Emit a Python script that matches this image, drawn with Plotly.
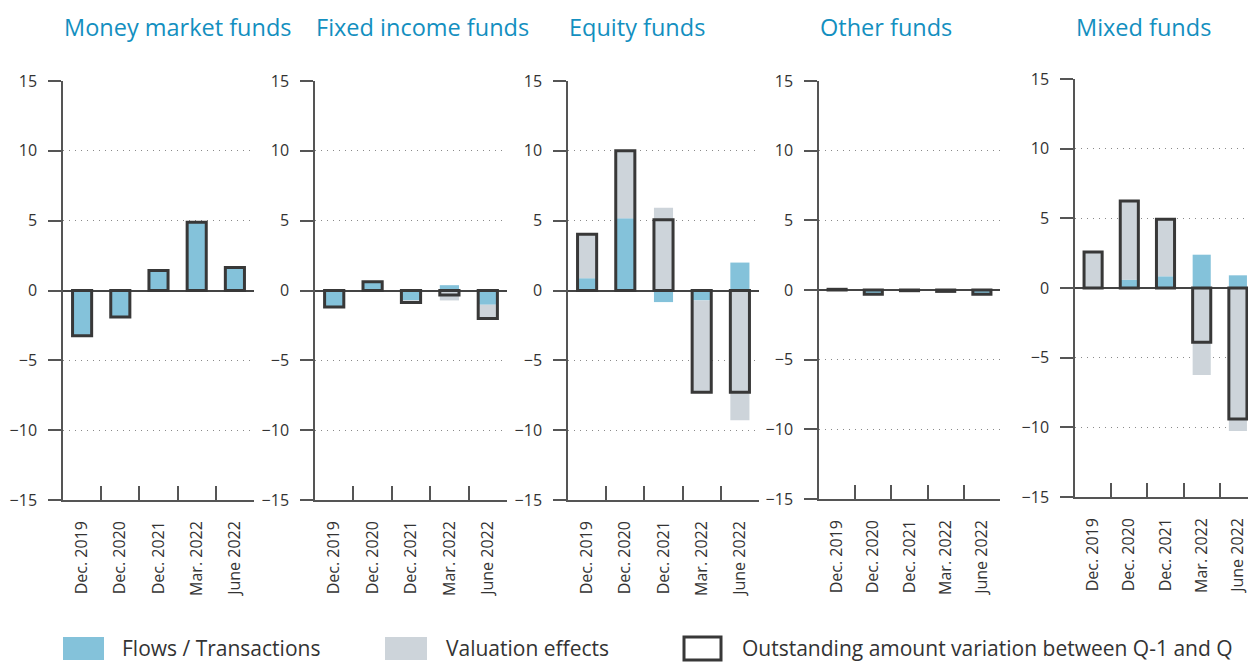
import plotly.graph_objects as go

W, H = 1256, 662
OFF = 8  # page body margin in the browser

categories = ["Dec. 2019", "Dec. 2020", "Dec. 2021", "Mar. 2022", "June 2022"]
titles = ["Money market funds", "Fixed income funds", "Equity funds", "Other funds", "Mixed funds"]

mmf_flows = [-3.24, -1.9, 1.43, 4.88, 1.64]
mmf_val = [0.0, 0.0, 0.0, 0.0, 0.0]
mmf_total = [-3.24, -1.9, 1.43, 4.88, 1.64]

fi_flows = [-1.19, 0.62, -0.7, 0.38, -1.02]
fi_val = [0.0, 0.0, -0.16, -0.71, -0.98]
fi_total = [-1.19, 0.62, -0.86, -0.33, -2.0]

eq_flows = [0.88, 5.17, -0.83, -0.71, 2.0]
eq_val = [3.14, 4.83, 5.93, -6.58, -9.29]
eq_total = [4.02, 10.0, 5.07, -7.29, -7.29]

oth_flows = [0.1, -0.3, -0.1, -0.05, -0.3]
oth_val = [-0.05, 0.0, 0.05, -0.05, 0.0]
oth_total = [0.05, -0.3, -0.05, -0.1, -0.3]

mix_flows = [0.0, 0.6, 0.84, 2.39, 0.91]
mix_val = [2.58, 5.64, 4.09, -6.24, -10.26]
mix_total = [2.58, 6.24, 4.93, -3.9, -9.4]

yticks = [-15, -10, -5, 0, 5, 10, 15]

panels = [
    (mmf_flows, mmf_val, mmf_total),
    (fi_flows, fi_val, fi_total),
    (eq_flows, eq_val, eq_total),
    (oth_flows, oth_val, oth_total),
    (mix_flows, mix_val, mix_total),
]

# pixel layout of each panel in the target picture: x0, x1, ytop(15), ybottom(-15)
boxes = [
    (63, 254, 81, 500),
    (315, 507, 81, 500),
    (568, 759, 81, 500),
    (819, 1000, 81, 499),
    (1075, 1256, 79, 497),
]


def px(x):
    return (x - OFF) / W


def py(y):
    return 1 - (y - OFF) / H


BLUE = "#84c2da"
GREY = "#cdd4da"
DARK = "#383838"
TXT = "#333333"
TITLE = "#138fc0"
FONT = "Open Sans"
BW = 0.5

fig = go.Figure()
layout = {}
annotations = []
shapes = []

for i, ((fl, va, tot), (x0, x1, yt, yb)) in enumerate(zip(panels, boxes)):
    n = "" if i == 0 else str(i + 1)
    xa, ya = "x" + n, "y" + n
    val_base = [f if f * v > 0 else 0 for f, v in zip(fl, va)]
    fig.add_trace(go.Bar(x=categories, y=fl, base=[0] * len(fl), width=BW,
                         marker=dict(color=BLUE, line=dict(width=0)),
                         xaxis=xa, yaxis=ya, showlegend=False))
    fig.add_trace(go.Bar(x=categories, y=va, base=val_base, width=BW,
                         marker=dict(color=GREY, line=dict(width=0)),
                         xaxis=xa, yaxis=ya, showlegend=False))
    fig.add_trace(go.Bar(x=categories, y=tot, base=[0] * len(tot), width=BW,
                         marker=dict(color="rgba(0,0,0,0)", line=dict(width=3, color=DARK)),
                         xaxis=xa, yaxis=ya, showlegend=False))
    # the last panel runs off the right edge of the picture
    d1 = px(x1)
    r1 = 4.5
    if d1 > 1:
        r1 = 4.5 - (d1 - 1) * W / ((x1 - x0) / 5)
        d1 = 1
    layout["xaxis" + n] = dict(
        domain=[px(x0), d1], anchor=ya, type="category",
        categoryorder="array", categoryarray=categories, automargin=False,
        range=[-0.5, r1], tickson="boundaries", ticks="inside", ticklen=14,
        tickwidth=1.5, tickcolor="#555", showline=True, linecolor="#555", linewidth=1.5,
        tickangle=-90, tickfont=dict(family=FONT, size=16, color=TXT),
        ticklabelstandoff=13, showgrid=False, zeroline=False, fixedrange=True,
    )
    layout["yaxis" + n] = dict(
        domain=[py(yb), py(yt)], anchor=xa, range=[-15, 15], automargin=False,
        tickvals=yticks, ticktext=[("\u2212" + str(-v)) if v < 0 else str(v) for v in yticks],
        ticks="outside", ticklen=13, tickwidth=1.5, tickcolor="#555",
        showline=True, linecolor="#555", linewidth=1.5, ticklabelstandoff=8,
        showgrid=True, gridcolor="#8a8a8a", griddash="1px,5px", gridwidth=1.2,
        zeroline=True, zerolinecolor="#444", zerolinewidth=1.5,
        tickfont=dict(family=FONT, size=16, color=TXT), fixedrange=True,
    )
    annotations.append(dict(text=titles[i], xref="paper", yref="paper",
                            x=px(x0 - 1), y=py(27), xanchor="left", yanchor="middle",
                            showarrow=False, font=dict(family=FONT, size=23.5, color=TITLE)))

# legend
leg = [
    (63, 104, BLUE, None, "Flows / Transactions", 120),
    (385, 427, GREY, None, "Valuation effects", 444),
    (684, 721, "white", DARK, "Outstanding amount variation between Q-1 and Q", 740),
]
for lx0, lx1, fc, lc, label, tx in leg:
    shapes.append(dict(type="rect", xref="paper", yref="paper",
                       x0=px(lx0), x1=px(lx1), y0=py(660), y1=py(637),
                       fillcolor=fc, line=dict(width=3 if lc else 0, color=lc or fc)))
    annotations.append(dict(text=label, xref="paper", yref="paper", x=px(tx), y=py(648),
                            xanchor="left", yanchor="middle", showarrow=False,
                            font=dict(family=FONT, size=21, color=TXT)))

fig.update_layout(
    width=W, height=H, margin=dict(l=0, r=0, t=0, b=0, autoexpand=False),
    paper_bgcolor="white", plot_bgcolor="white", barmode="overlay",
    annotations=annotations, shapes=shapes, showlegend=False,
    **layout,
)

fig.write_html("out.html", config={"displayModeBar": False})
